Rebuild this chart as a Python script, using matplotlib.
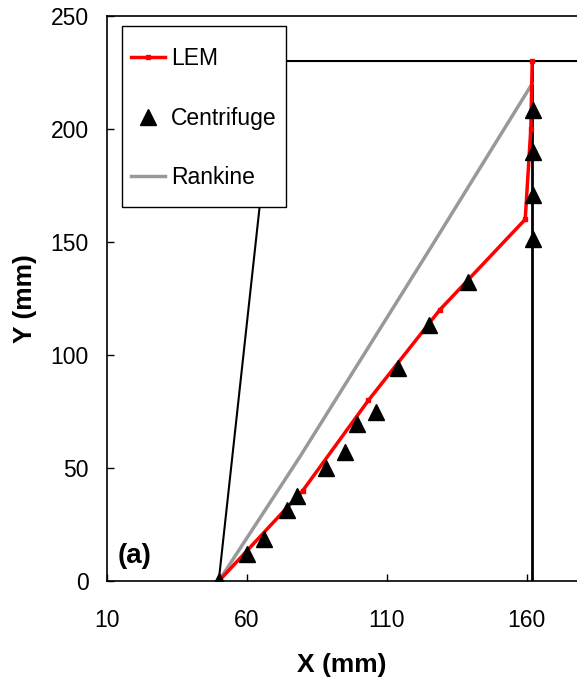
import matplotlib.pyplot as plt
from matplotlib.patches import Rectangle

plt.rcParams['font.family'] = ['Liberation Sans', 'DejaVu Sans']

# LEM prediction
lem_x = [50, 80, 103.5, 129, 159.5, 161.5, 162]
lem_y = [0, 40, 80, 120, 160, 200, 230]

# centrifuge test
cen_x = [50, 60, 66.3, 74.3, 77.9, 88.3, 95.2, 99.3, 106.1, 113.9, 125.2, 139.1,
         162.2, 162.2, 162.2, 162.2]
cen_y = [0, 12.2, 18.8, 31.3, 37.6, 50.1, 57.0, 69.5, 75.0, 94.1, 113.2, 132.2,
         151.5, 170.8, 189.6, 208.5]

# Rankine
ran_x = [50, 79, 125, 162]
ran_y = [0, 55, 146, 220]

# soil block outline and wall
soil_x = [50, 70.3, 185]
soil_y = [0, 230, 230]
wall_x = [162, 162]
wall_y = [0, 230]

fig = plt.figure(figsize=(5.77, 6.87), dpi=100)
ax = fig.add_axes([0.185, 0.154, 0.815, 0.823])

ax.plot(soil_x, soil_y, color='black', lw=1.5, zorder=1)
ax.plot(wall_x, wall_y, color='black', lw=2.0, zorder=1)
ax.plot(ran_x, ran_y, color='#999999', lw=2.5, label='Rankine', zorder=2)
ax.plot(lem_x, lem_y, color='red', lw=2.5, marker='s', ms=3.5, label='LEM', zorder=3)
ax.plot(cen_x, cen_y, linestyle='none', marker='^', ms=11, color='black',
        label='Centrifuge', zorder=4)

ax.set_xlim(10, 178)
ax.set_ylim(0, 250)
ax.set_xticks([10, 60, 110, 160])
ax.set_yticks([0, 50, 100, 150, 200, 250])
ax.tick_params(direction='in', length=5, width=1, labelsize=16.5)
ax.tick_params(axis='x', pad=20)
ax.tick_params(axis='y', pad=13)
ax.spines['right'].set_visible(False)
for s in ['left', 'bottom', 'top']:
    ax.spines[s].set_linewidth(1.2)

ax.set_xlabel('X (mm)', fontsize=19, fontweight='bold')
ax.set_ylabel('Y (mm)', fontsize=19, fontweight='bold')
ax.xaxis.set_label_coords(0.5, -0.127)
ax.yaxis.set_label_coords(-0.148, 0.5)

ax.text(20, 11, '(a)', fontsize=20, fontweight='bold', ha='center', va='center')

# legend box drawn by hand (taller padding than matplotlib allows)
ax.add_patch(Rectangle((0.032, 0.661), 0.349, 0.321, transform=ax.transAxes,
                       facecolor='white', edgecolor='black', lw=1, zorder=5))

h, l = ax.get_legend_handles_labels()
order = [1, 2, 0]
leg = ax.legend([h[i] for i in order], [l[i] for i in order], loc='upper left',
                bbox_to_anchor=(0.0517, 0.945), borderaxespad=0, borderpad=0,
                fontsize=16.5, frameon=False, handlelength=1.5,
                labelspacing=1.6, handletextpad=0.25, numpoints=1)
leg.set_zorder(6)

fig.savefig('out.png', dpi=100)
